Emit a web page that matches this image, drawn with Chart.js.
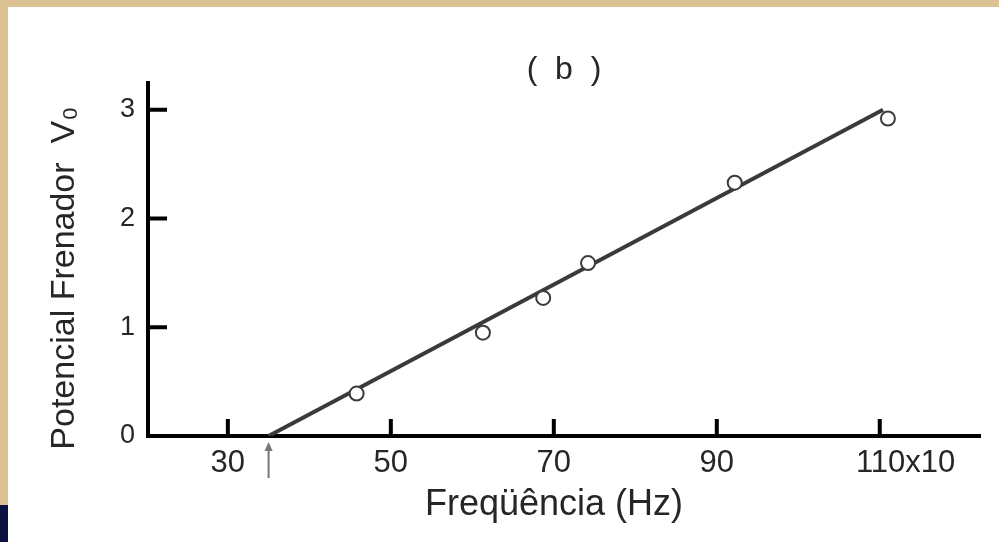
<!DOCTYPE html>
<html lang="pt-BR">
<head>
<meta charset="utf-8">
<title>Potencial Frenador x Frequência</title>
<script src="https://cdn.jsdelivr.net/npm/chart.js@4.4.1/dist/chart.umd.min.js"></script>
<style>
  html, body { margin: 0; padding: 0; background: #fff; }
  #quadro { position: relative; width: 999px; height: 542px; background: #fff; overflow: hidden; }
  #grafico { position: absolute; left: 0; top: 0; }
  .borda-topo { position: absolute; left: 0; top: 0; width: 999px; height: 7px; background: #dcc194; }
  .borda-esq { position: absolute; left: 0; top: 0; width: 8px; height: 505px; background: #dcc194; }
  .canto { position: absolute; left: 0; top: 505px; width: 8px; height: 37px; background: #0b1140; }
</style>
</head>
<body>
<div id="quadro">
  <canvas id="grafico" width="999" height="542"></canvas>
  <div class="borda-topo"></div>
  <div class="borda-esq"></div>
  <div class="canto"></div>
</div>
<script>
// ========================
// Dados
// ========================
const frequencias = [45.8, 61.3, 68.7, 74.2, 92.2, 111.0];
const potenciais = [0.39, 0.95, 1.27, 1.59, 2.33, 2.92];

// reta ajustada
const retaFrequencias = [35, 110.4];
const retaPotenciais = [0, 3.0];

// frequência de corte (seta)
const frequenciaCorte = 35;

const ticksX = [30, 50, 70, 90, 110];
const ticksY = [0, 1, 2, 3];
const rotulosX = ["30", "50", "70", "90", "      110x10"];

const fonte = "'Liberation Sans', Arial, sans-serif";
const corTexto = "#262626";

// ========================
// Marcas dos eixos para dentro + seta
// ========================
const marcasInternas = {
  id: "marcasInternas",
  afterDatasetsDraw(chart) {
    const { ctx, chartArea, scales } = chart;
    ctx.save();
    ctx.strokeStyle = "#000";
    ctx.lineWidth = 4;
    ctx.beginPath();
    ticksX.forEach(v => {
      const px = scales.x.getPixelForValue(v);
      ctx.moveTo(px, chartArea.bottom);
      ctx.lineTo(px, chartArea.bottom - 17);
    });
    ticksY.filter(v => v > 0).forEach(v => {
      const py = scales.y.getPixelForValue(v);
      ctx.moveTo(chartArea.left, py);
      ctx.lineTo(chartArea.left + 19, py);
    });
    ctx.stroke();

    // seta apontando a frequência de corte
    const xs = scales.x.getPixelForValue(frequenciaCorte);
    const y0 = chartArea.bottom + 6;
    ctx.strokeStyle = "#777";
    ctx.fillStyle = "#777";
    ctx.lineWidth = 2;
    ctx.beginPath();
    ctx.moveTo(xs, y0 + 36);
    ctx.lineTo(xs, y0 + 6);
    ctx.stroke();
    ctx.beginPath();
    ctx.moveTo(xs, y0);
    ctx.lineTo(xs - 4, y0 + 9);
    ctx.lineTo(xs + 4, y0 + 9);
    ctx.closePath();
    ctx.fill();
    ctx.restore();
  }
};

// ========================
// Gráfico
// ========================
const ctx = document.getElementById("grafico").getContext("2d");
new Chart(ctx, {
  type: "scatter",
  data: {
    datasets: [
      {
        label: "Medidas",
        data: frequencias.map((f, i) => ({ x: f, y: potenciais[i] })),
        pointStyle: "circle",
        pointRadius: 7,
        pointBackgroundColor: "#fff",
        pointBorderColor: "#3c3c3c",
        pointBorderWidth: 2,
        showLine: false
      },
      {
        label: "Reta",
        type: "line",
        data: retaFrequencias.map((f, i) => ({ x: f, y: retaPotenciais[i] })),
        borderColor: "#3a3a3a",
        borderWidth: 4,
        pointRadius: 0,
        fill: false
      }
    ]
  },
  options: {
    responsive: false,
    animation: false,
    events: [],
    layout: { padding: { left: 0, right: 19, top: 0, bottom: 0 } },
    plugins: {
      legend: { display: false },
      tooltip: { enabled: false },
      title: {
        display: true,
        text: "(  b  )",
        fullSize: false,
        color: corTexto,
        font: { family: fonte, size: 32, weight: "normal", lineHeight: 0.8 },
        padding: { top: 57, bottom: 0 }
      }
    },
    scales: {
      x: {
        type: "linear",
        min: 20.2,
        max: 122.3,
        afterBuildTicks: axis => { axis.ticks = ticksX.map(v => ({ value: v })); },
        afterFit: scale => { scale.height = 106; },
        grid: { display: false, drawTicks: false },
        border: { display: true, color: "#000", width: 4 },
        ticks: {
          padding: 9,
          color: corTexto,
          font: { family: fonte, size: 31 },
          maxRotation: 0,
          callback: (v) => rotulosX[ticksX.indexOf(v)]
        },
        title: {
          display: true,
          text: "Freqüência (Hz)  ",
          color: corTexto,
          font: { family: fonte, size: 36 },
          padding: { top: 0, bottom: 15 }
        }
      },
      y: {
        type: "linear",
        min: 0,
        max: 3.25,
        afterBuildTicks: axis => { axis.ticks = ticksY.map(v => ({ value: v })); },
        afterFit: scale => { scale.width = 148; },
        grid: { display: false, drawTicks: false },
        border: { display: true, color: "#000", width: 4 },
        ticks: {
          padding: 13,
          color: corTexto,
          font: { family: fonte, size: 27 }
        },
        title: {
          display: true,
          text: "Potencial Frenador  V₀    ",
          color: corTexto,
          font: { family: fonte, size: 34 },
          padding: { top: 44, bottom: 0 }
        }
      }
    }
  },
  plugins: [marcasInternas]
});
</script>
</body>
</html>
